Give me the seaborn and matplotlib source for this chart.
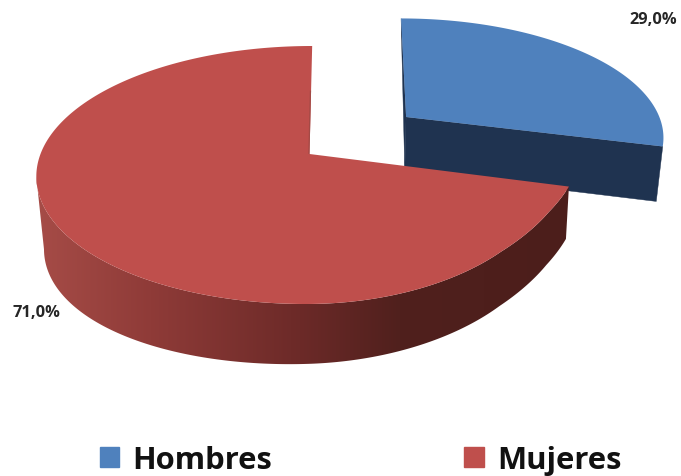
import numpy as np
import matplotlib
matplotlib.use("Agg")
import matplotlib.pyplot as plt
from matplotlib.patches import Patch, Polygon
import seaborn as sns

categories = ["Hombres", "Mujeres"]
shares = [29.0, 71.0]
label_text = [f"{v:.1f}%".replace(".", ",") for v in shares]

sns.set_theme(style="white")
plt.rcParams["font.family"] = ["Open Sans", "DejaVu Sans"]
palette = sns.color_palette(["#4f81bd", "#bf4f4c"])
NAVY = "#1f3350"

fig = plt.figure(figsize=(6.81, 4.77), dpi=100)
ax = fig.add_axes([0, 0, 1, 1])
ax.axis("off")

K, Q = 0.1628, -100.35


def project(u, v, a, px, x0):
    """Perspective view of the pie plane, in figure pixels."""
    w = 1 + K * np.asarray(v)
    return (x0 + a * np.asarray(u) + px * np.asarray(v)) / w, (155 + Q * np.asarray(v)) / w


split = 360 * shares[0] / sum(shares)

# Exploded slice (Hombres)
PXB, X0B, DV, AB = 60.0, 408.0, 0.3095, 266.0
t = np.radians(np.linspace(0, split, 200))
bx, by = project(np.sin(t), DV + np.cos(t), AB, PXB, X0B)
apx, apy = project(0.0, DV, AB, PXB, X0B)


def drop_blue(x, y):
    return 340 + (np.asarray(x) - 340) * 0.98, np.asarray(y) + 55 + (np.asarray(y) - 148) * 0.03


bxb, byb = drop_blue(bx, by)
axb, ayb = drop_blue(apx, apy)
ax.fill([bx[0], apx, axb], [by[0], apy, ayb], color=NAVY, lw=0.3)
ax.fill([apx, bx[-1], bxb[-1], axb], [apy, by[-1], byb[-1], ayb], color=NAVY, lw=0.3)
ax.fill(np.r_[apx, bx], np.r_[apy, by], color=palette[0], lw=0)

# Main slice (Mujeres)
PXR, X0R = 53.5, 309.5
t = np.radians(np.linspace(split, 360, 800))
u, v = np.sin(t), np.cos(t)
a_red = np.where(u < 0, 269.0, np.interp(v, [-1, -0.94, -0.69, -0.43, -0.2447], [236, 236, 238, 248, 258]))
rx, ry = project(u, v, a_red, PXR, X0R)

# drop of the side wall, a little deeper on the near left of the disc (smooth fit)
rxb = 420 + (rx - 420) * 0.98
drop_fit = np.polyfit([36, 95, 200, 300, 400, 500, 570], [72, 70, 63, 60, 57, 55, 52], 3)
ryb = ry + np.polyval(drop_fit, rx)
i_low, i_up = int(np.argmin(rxb)), int(np.argmin(rx))
wall = Polygon(np.c_[np.r_[rxb[:i_low + 1], rx[:i_up + 1][::-1]], np.r_[ryb[:i_low + 1], ry[:i_up + 1][::-1]]],
               closed=True, transform=ax.transData, facecolor="none", edgecolor="none")
ax.add_patch(wall)
stops_x = [36, 150, 300, 400, 570]
stops_rgb = np.array([[166, 76, 71], [143, 59, 56], [108, 42, 40], [80, 32, 29], [76, 30, 27]]) / 255
grad_x = np.linspace(30, 580, 256)
grad = np.stack([np.interp(grad_x, stops_x, stops_rgb[:, j]) for j in range(3)], axis=-1)[None, :, :]
im = ax.imshow(grad, extent=(30, 580, 400, 100), aspect="auto", interpolation="bilinear", zorder=2)
im.set_clip_path(wall)

cx, cy = project(0.0, 0.0, 0.0, PXR, X0R)
ax.fill(np.r_[cx, rx], np.r_[cy, ry], color=palette[1], lw=0, zorder=3)
ex, ey = project(0.0, np.array([0.0, 0.55]), 0.0, PXR, X0R)
ax.plot(ex - 0.6, ey, color="#a34a46", lw=0.9, zorder=4, solid_capstyle="butt")

ax.set_xlim(0, 681)
ax.set_ylim(477, 0)

# Value labels
ax.text(653, 20, label_text[0], ha="center", va="center", fontsize=11.8, fontweight="bold", color="#262626")
ax.text(36, 313, label_text[1], ha="center", va="center", fontsize=11.8, fontweight="bold", color="#262626")

# Legend
handles = [Patch(color=palette[i], label=categories[i]) for i in range(2)]
ax.legend(handles=handles, ncol=2, loc="center", bbox_to_anchor=(360.5, 461),
          bbox_transform=ax.transData, frameon=False, prop={"weight": "bold", "size": 22.3},
          handlelength=0.64, handleheight=0.64, handletextpad=0.42, columnspacing=6.2,
          labelcolor="#111111")

fig.savefig("out.png", dpi=100, facecolor="white")
